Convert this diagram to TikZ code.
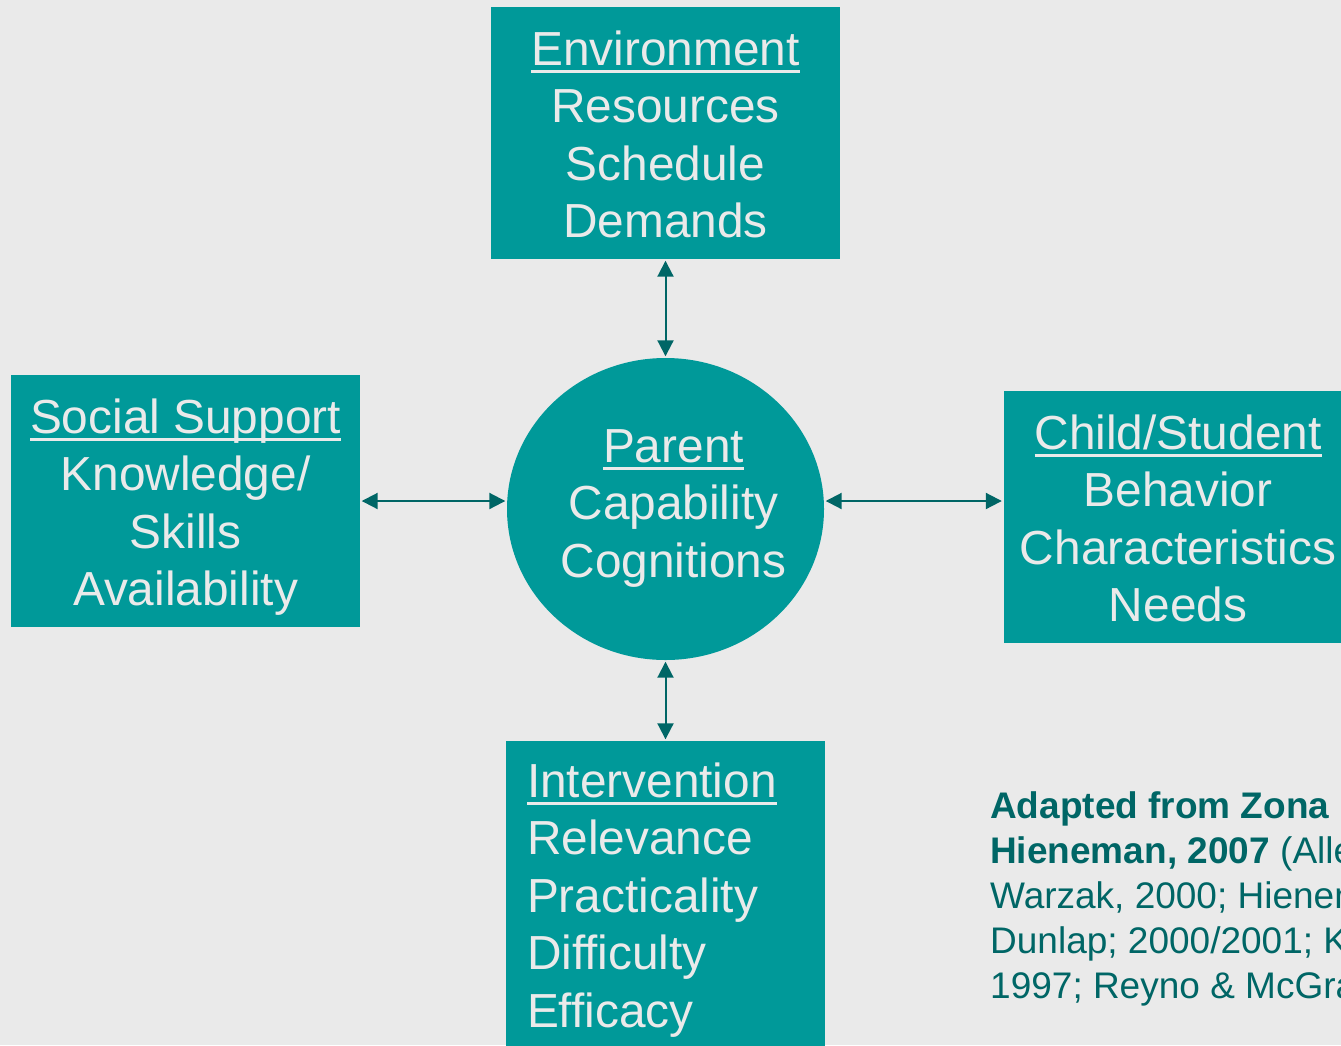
\documentclass[tikz,border=0pt]{standalone}
\usepackage{fontspec}
\setmainfont{Liberation Sans}
\usetikzlibrary{arrows.meta,shapes.geometric}

\definecolor{slide}{HTML}{EAEAEA}
\definecolor{panel}{HTML}{009999}
\definecolor{linkteal}{HTML}{006666}

% underlined first line of each box
\newcommand\ulhead[1]{\setbox0=\hbox{#1}\rlap{\rule[-8pt]{\wd0}{3.5pt}}\box0}

\tikzset{
  factor/.style={fill=panel, text=slide, inner sep=0pt, align=center,
    minimum width=349pt, minimum height=252pt, text height=230.5pt, text depth=21.5pt},
  hub/.style={ellipse, fill=panel, inner sep=0pt, minimum width=317pt, minimum height=302pt},
  link/.style={draw=linkteal, line width=2pt,
    {Triangle[length=16pt,width=16pt]}-{Triangle[length=16pt,width=16pt]},
    shorten <=1.5pt, shorten >=1.5pt}
}

\begin{document}
\begin{tikzpicture}[x=1pt,y=-1pt,font=\fontsize{47.8}{57.5}\selectfont]

\useasboundingbox (0,0) rectangle (1341,1045);
\fill[slide] (0,0) rectangle (1341,1045);
\clip (0,0) rectangle (1341,1045);

% the four factors round the parent
\node[factor] (env) at (665.5,133) {\ulhead{Environment}\\Resources\\Schedule\\Demands};
\node[factor] (social) at (185.5,501) {\ulhead{Social Support}\\Knowledge/\\Skills\\Availability};
\node[factor] (child) at (1178,517) {\ulhead{Child/Student}\\Behavior\\Characteristics\\Needs};
\node[factor, align=left, text width=277pt, inner xsep=21pt, minimum width=319pt,
  minimum height=306pt, text height=56pt, text depth=250pt] (interv) at (665.5,894)
  {\ulhead{Intervention}\\Relevance\\Practicality\\Difficulty\\Efficacy};

\node[hub] (parent) at (665.5,509) {};
\node[text=slide, align=center, inner sep=0pt, text height=150pt, text depth=14pt]
  (parentlabel) at (673.5,509) {\ulhead{Parent}\\Capability\\Cognitions};

\draw[link] (env.south) -- (parent.north);
\draw[link] (parent.south) -- (interv.north);
\draw[link] (social.east) -- (social.east -| parent.west);
\draw[link] (parent.east |- social.east) -- (child.west |- social.east);

% source note
\node[text=linkteal, align=left, inner sep=0pt, text height=210pt, anchor=north west,
  font=\fontsize{37}{45}\selectfont] (source) at (990,788)
  {\textbf{Adapted from Zona}\\\textbf{Hieneman, 2007} (Allen\\Warzak, 2000; Hieneman\\Dunlap; 2000/2001; Kazdin\\1997; Reyno \& McGrath};

\end{tikzpicture}
\end{document}
